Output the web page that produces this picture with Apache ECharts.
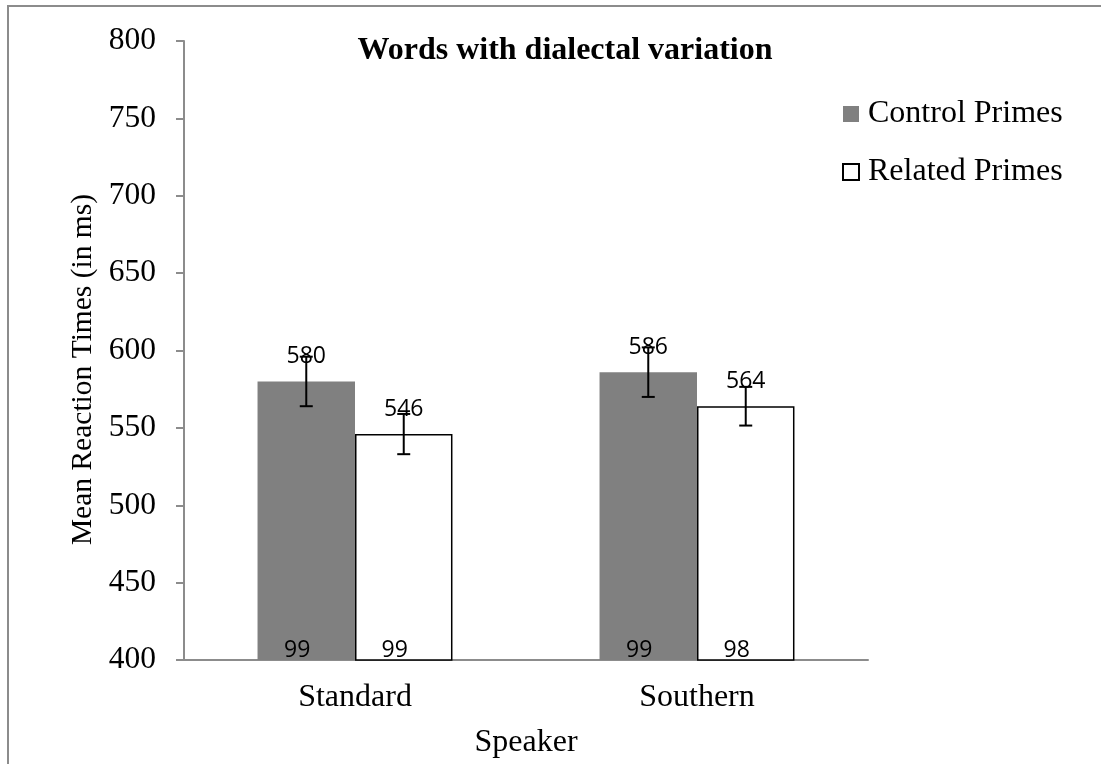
<!DOCTYPE html>
<html>
<head>
<meta charset="utf-8">
<script src="https://cdn.jsdelivr.net/npm/echarts@6/dist/echarts.min.js"></script>
<style>
  html, body { margin: 0; padding: 0; background: #fff; }
  #chart { width: 1101px; height: 764px; }
</style>
</head>
<body>
<div id="chart"></div>
<script>
var categories = ["Standard", "Southern"];
var controlMeans = [580, 586];
var relatedMeans = [546, 564];
var controlErr = [16, 16];
var relatedErr = [13, 12.5];
var controlN = [99, 99];
var relatedN = [99, 98];
var yMin = 400;
var yMax = 800;
var yStep = 50;

var serif = "Liberation Serif";
var sans = "Open Sans";
var gapRatio = 0.43;

// error bars + n labels at the base of each bar
function errorItem(groupIndex) {
  return function (params, api) {
    var cat = api.value(0);
    var mean = api.value(1);
    var err = api.value(2);
    var n = api.value(3);
    var band = api.size([1, 0])[0];
    var barW = (band * (1 - gapRatio)) / 2;
    var cx = api.coord([cat, mean])[0] + (groupIndex - 0.5) * barW;
    var top = api.coord([cat, mean + err])[1];
    var bottom = api.coord([cat, mean - err])[1];
    var base = api.coord([cat, yMin])[1];
    var cap = 6.5;
    var style = { stroke: "#000", lineWidth: 2 };
    return {
      type: "group",
      children: [
        { type: "line", shape: { x1: cx, y1: top, x2: cx, y2: bottom }, style: style },
        { type: "line", shape: { x1: cx - cap, y1: top, x2: cx + cap, y2: top }, style: style },
        { type: "line", shape: { x1: cx - cap, y1: bottom, x2: cx + cap, y2: bottom }, style: style },
        {
          type: "text",
          x: cx - 9,
          y: base - 10,
          style: {
            text: String(n),
            fontFamily: sans,
            fontSize: 23,
            fill: "#000",
            align: "center",
            verticalAlign: "middle",
          },
        },
      ],
    };
  };
}

var chartDom = document.getElementById("chart");
var myChart = echarts.init(chartDom);
var option;

option = {
  backgroundColor: "#fff",
  animation: false,
  title: {
    text: "Words with dialectal variation",
    left: 560,
    textAlign: "center",
    top: 30,
    textStyle: { fontFamily: serif, fontWeight: "bold", fontSize: 32, color: "#000" },
  },
  legend: {
    orient: "vertical",
    left: 842,
    top: 98,
    padding: 0,
    itemWidth: 16,
    itemHeight: 16,
    itemGap: 26,
    icon: "rect",
    data: ["Control Primes", "Related Primes"],
    textStyle: { fontFamily: serif, fontSize: 32, lineHeight: 28, color: "#000", padding: [0, 0, 0, 4] },
  },
  graphic: [
    {
      type: "rect",
      shape: { x: 8, y: 6, width: 1300, height: 1000 },
      style: { fill: "none", stroke: "#8c8c8c", lineWidth: 2 },
      silent: true,
    },
  ],
  grid: { left: 184, right: 233, top: 41, bottom: 101 },
  xAxis: {
    type: "category",
    data: categories,
    name: "Speaker",
    nameLocation: "middle",
    nameGap: 67,
    nameTextStyle: { fontFamily: serif, fontSize: 32, color: "#000" },
    axisLine: { lineStyle: { color: "#8c8c8c", width: 2 } },
    axisTick: { length: 8, lineStyle: { color: "#8c8c8c", width: 2 } },
    axisLabel: { fontFamily: serif, fontSize: 32, color: "#000", margin: 22 },
  },
  yAxis: {
    type: "value",
    min: yMin,
    max: yMax,
    interval: yStep,
    name: "Mean Reaction Times (in ms)",
    nameLocation: "middle",
    nameGap: 85,
    nameTextStyle: { fontFamily: serif, fontSize: 29.5, color: "#000", padding: [0, 38, 0, 0] },
    axisLine: { show: true, lineStyle: { color: "#8c8c8c", width: 2 } },
    axisTick: { show: true, length: 8, lineStyle: { color: "#8c8c8c", width: 2 } },
    axisLabel: { fontFamily: serif, fontSize: 31.5, color: "#000", margin: 28 },
    splitLine: { show: false },
  },
  series: [
    {
      name: "Control Primes",
      type: "bar",
      data: controlMeans,
      barGap: 0,
      barCategoryGap: gapRatio * 100 + "%",
      itemStyle: { color: "#808080" },
      label: {
        show: true,
        position: "top",
        distance: 13,
        fontFamily: sans,
        fontSize: 23,
        color: "#000",
      },
    },
    {
      name: "Related Primes",
      type: "bar",
      data: relatedMeans,
      itemStyle: { color: "#fff", borderColor: "#000", borderWidth: 1.5 },
      label: {
        show: true,
        position: "top",
        distance: 13,
        fontFamily: sans,
        fontSize: 23,
        color: "#000",
      },
    },
    {
      type: "custom",
      z: 10,
      renderItem: errorItem(0),
      data: categories.map(function (c, i) {
        return [i, controlMeans[i], controlErr[i], controlN[i]];
      }),
    },
    {
      type: "custom",
      z: 10,
      renderItem: errorItem(1),
      data: categories.map(function (c, i) {
        return [i, relatedMeans[i], relatedErr[i], relatedN[i]];
      }),
    },
  ],
};

option && myChart.setOption(option);
</script>
</body>
</html>
